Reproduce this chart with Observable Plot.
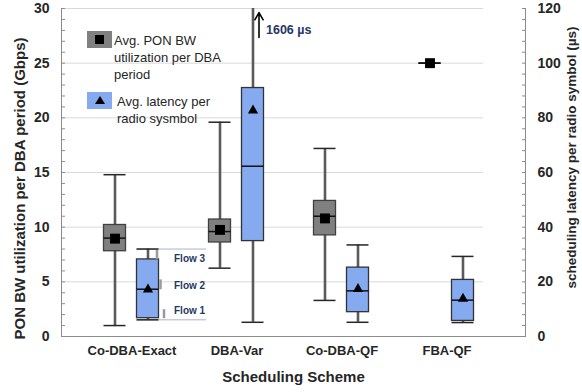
<!DOCTYPE html>
<html><head><meta charset="utf-8">
<script src="https://cdn.jsdelivr.net/npm/d3@7"></script>
<script src="https://cdn.jsdelivr.net/npm/@observablehq/plot@0.6"></script>
<style>
html,body{margin:0;padding:0;background:#fff;}
#wrap{position:relative;width:582px;height:392px;font-family:"Liberation Sans",Arial,sans-serif;}
.leg{position:absolute;font-size:13px;color:#262626;line-height:17px;white-space:nowrap;}
.sw{position:absolute;width:25px;height:17px;}
</style></head><body><div id="wrap"></div>
<script>
// ---- data ----
const categories = ["Co-DBA-Exact", "DBA-Var", "Co-DBA-QF", "FBA-QF"];
// PON BW utilization per DBA period (Gbps) — left axis
const bwMin    = [1.0, 6.25, 3.3, 25];
const bwQ1     = [7.8, 8.6, 9.25, 25];
const bwMedian = [9.0, 9.6, 11.0, 25];
const bwQ3     = [10.2, 10.7, 12.4, 25];
const bwMax    = [14.8, 19.6, 17.2, 25];
const bwMean   = [8.95, 9.75, 10.8, 25];
// scheduling latency per radio symbol (µs) — right axis
const latMin    = [6.1, 5.2, 5.2, 5.1];
const latQ1     = [6.7, 34.9, 8.9, 5.7];
const latMedian = [17.3, 62.3, 16.7, 13.3];
const latQ3     = [28.2, 90.9, 25.2, 20.7];
const latMax    = [32.0, 1606, 33.5, 29.3];
const latMean   = [17.2, 82.7, 17.4, 13.8];
// axes
const leftTicks  = [0, 5, 10, 15, 20, 25, 30];
const rightTicks = [0, 20, 40, 60, 80, 100, 120];
// flow annotations (µs) on Co-DBA-Exact latency box
const flowLabels  = ["Flow 3", "Flow 2", "Flow 1"];
const flowLabelY  = [28.4, 18.7, 9.3];
const flowMarkLo  = [28.1, 17.1, 6.5];
const flowMarkHi  = [31.5, 20.7, 9.8];
const flowLines   = [32.0, 6.1];
// off-scale note for DBA-Var latency max (µs)
const arrowFrom = 109.4, arrowTo = 118.5, noteY = 112;

const ratio = leftTicks[leftTicks.length - 1] / rightTicks[rightTicks.length - 1];
const rows = categories.map((cat, i) => ({
  cat, bwMin: bwMin[i], bwQ1: bwQ1[i], bwMedian: bwMedian[i], bwQ3: bwQ3[i], bwMax: bwMax[i], bwMean: bwMean[i],
  latMin: latMin[i], latQ1: latQ1[i], latMedian: latMedian[i], latQ3: latQ3[i], latMax: latMax[i], latMean: latMean[i]
}));
const L = v => v * ratio;

const BAND = 105, HALF = 11;
const gDx = -17, bDx = 16;
const gIns = {insetLeft: BAND/2 + gDx - HALF, insetRight: BAND/2 - gDx - HALF};
const bIns = {insetLeft: BAND/2 + bDx - HALF, insetRight: BAND/2 - bDx - HALF};

const GRAY = "#808080", BLUE = "#85aaf0", WHISK = "#5a5a5a", DARK = "#262626", NAVY = "#1f3864";
const axisColor = "#8c8c8c";

const chart = Plot.plot({
  width: 582, height: 392,
  marginLeft: 61, marginRight: 57, marginTop: 8, marginBottom: 56,
  style: {fontFamily: "'Liberation Sans', Arial, sans-serif", background: "#fff"},
  x: {type: "band", domain: categories, range: [78.5, 498.5], padding: 0},
  y: {domain: [0, 30]},
  marks: [
    Plot.ruleY(leftTicks.filter(d => d > 0), {stroke: "#d9d9d9", strokeWidth: 1, insetRight: 42}),
    Plot.frame({anchor: "left", stroke: axisColor}),
    Plot.frame({anchor: "right", stroke: axisColor}),
    Plot.frame({anchor: "bottom", stroke: axisColor}),
    Plot.axisY(d3.range(0, 31), {anchor: "left", tickSize: 4, dx: 4, tickFormat: () => "", stroke: axisColor, label: null}),
    Plot.axisY(d3.range(0, 31), {anchor: "right", tickSize: 4, dx: -4, tickFormat: () => "", stroke: axisColor, label: null}),
    Plot.axisY(leftTicks, {anchor: "left", tickSize: 0, tickPadding: 12, fontSize: 14, fontWeight: "bold", fill: DARK, label: null}),
    Plot.axisY(rightTicks.map(L), {anchor: "right", tickSize: 0, tickPadding: 12, fontSize: 14, fontWeight: "bold", fill: DARK, label: null,
      tickFormat: v => String(Math.round(v / ratio))}),
    Plot.axisX({tickSize: 0, tickPadding: 9, fontSize: 13, fontWeight: "bold", fill: DARK, label: null}),
    Plot.text(["PON BW utilization per DBA period (Gbps)"], {frameAnchor: "left", textAnchor: "middle", lineAnchor: "middle", rotate: -90, dx: -41, dy: 16, fontSize: 15, fontWeight: "bold", fill: DARK}),
    Plot.text(["scheduling latency per radio symbol (µs)"], {frameAnchor: "right", textAnchor: "middle", lineAnchor: "middle", rotate: -90, dx: 46, dy: -15, fontSize: 13.5, fontWeight: "bold", fill: DARK}),
    Plot.text(["Scheduling Scheme"], {frameAnchor: "bottom", textAnchor: "middle", lineAnchor: "middle", dy: 41, fontSize: 15, fontWeight: "bold", fill: DARK}),

    // flow guide lines
    Plot.tickY(flowLines, {x: () => categories[0], y: L, insetLeft: bIns.insetLeft, insetRight: -22, stroke: "#a9b4c8", strokeWidth: 1}),

    // PON BW (gray) boxes
    Plot.ruleX(rows, {x: "cat", y1: "bwMin", y2: "bwMax", dx: gDx, stroke: WHISK, strokeWidth: 2.6}),
    Plot.tickY(rows, {x: "cat", y: "bwMin", ...gIns, stroke: DARK, strokeWidth: 1.5}),
    Plot.tickY(rows, {x: "cat", y: "bwMax", ...gIns, stroke: DARK, strokeWidth: 1.5}),
    Plot.barY(rows, {x: "cat", y1: "bwQ1", y2: "bwQ3", ...gIns, fill: GRAY, stroke: "#404040", strokeWidth: 1.3}),
    Plot.tickY(rows, {x: "cat", y: "bwMedian", ...gIns, stroke: "#111", strokeWidth: 1.5}),
    Plot.dot(rows, {x: "cat", y: "bwMean", dx: gDx, symbol: "square", r: 5.6, fill: "#000"}),

    // latency (blue) boxes
    Plot.ruleX(rows, {x: "cat", y1: d => L(d.latMin), y2: d => L(d.latMax), dx: bDx, stroke: WHISK, strokeWidth: 2.6, clip: true}),
    Plot.tickY(rows, {x: "cat", y: d => L(d.latMin), ...bIns, stroke: DARK, strokeWidth: 1.5}),
    Plot.tickY(rows.filter(d => L(d.latMax) <= 30), {x: "cat", y: d => L(d.latMax), ...bIns, stroke: DARK, strokeWidth: 1.5}),
    Plot.barY(rows, {x: "cat", y1: d => L(d.latQ1), y2: d => L(d.latQ3), ...bIns, fill: BLUE, stroke: "#333", strokeWidth: 1.3}),
    Plot.tickY(rows, {x: "cat", y: d => L(d.latMedian), ...bIns, stroke: "#111", strokeWidth: 1.5}),
    Plot.dot(rows, {x: "cat", y: d => L(d.latMean), dx: bDx, symbol: "triangle", r: 3.8, fill: "#000"}),

    // flow markers and labels
    ...flowLabels.map((f, i) => Plot.ruleX([i], {x: () => categories[0], y1: () => L(flowMarkLo[i]), y2: () => L(flowMarkHi[i]), dx: 25 + i * 3.5, stroke: "#9a9a9a", strokeWidth: 2.5})),
    Plot.text(flowLabels, {x: () => categories[0], y: (d, i) => L(flowLabelY[i]), text: d => d, dx: 42, textAnchor: "start", fontSize: 10, fontWeight: "bold", fill: NAVY}),

    // off-scale note
    Plot.arrow([latMax[1]], {x1: () => categories[1], x2: () => categories[1], y1: () => L(arrowFrom), y2: () => L(arrowTo), dx: 22, stroke: "#000", strokeWidth: 1.6, headLength: 8}),
    Plot.text([latMax[1]], {x: () => categories[1], y: () => L(noteY), text: d => `${d} µs`, dx: 29, textAnchor: "start", fontSize: 12.5, fontWeight: "bold", fill: NAVY})
  ]
});

const wrap = document.getElementById("wrap");
wrap.appendChild(chart);

// legend (inside the plot area)
function el(tag, cls, css, html) { const e = document.createElement(tag); if (cls) e.className = cls; Object.assign(e.style, css); if (html != null) e.innerHTML = html; wrap.appendChild(e); return e; }
const legendItems = [
  {label: ["Avg. PON BW", "utilization per DBA", "period"], fill: GRAY, mark: "square"},
  {label: ["Avg. latency per", "radio sysmbol"], fill: BLUE, mark: "triangle"}
];
const legTops = [31, 92], legTextLeft = [114, 117];
legendItems.forEach((it, i) => {
  const sw = el("div", "sw", {left: "87px", top: legTops[i] + "px", background: it.fill});
  const m = document.createElement("div");
  if (it.mark === "square") Object.assign(m.style, {position: "absolute", left: "8px", top: "4px", width: "9px", height: "9px", background: "#000"});
  else Object.assign(m.style, {position: "absolute", left: "8px", top: "4px", width: 0, height: 0, borderLeft: "5px solid transparent", borderRight: "5px solid transparent", borderBottom: "8px solid #000"});
  sw.appendChild(m);
  el("div", "leg", {left: legTextLeft[i] + "px", top: (legTops[i] + 0.5) + "px"}, it.label.join("<br>"));
});
</script></body></html>
